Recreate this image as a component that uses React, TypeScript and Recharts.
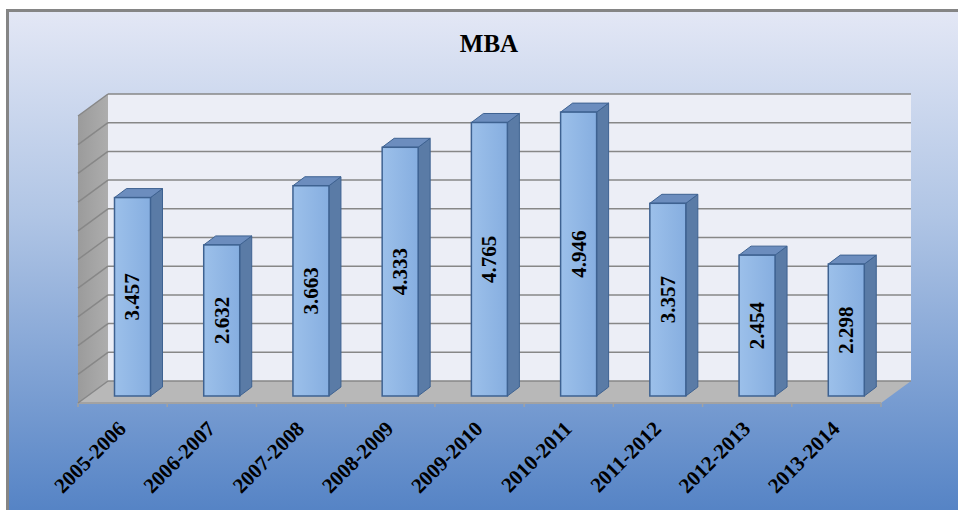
import { BarChart, Bar, XAxis, YAxis, CartesianGrid, LabelList } from 'recharts';

const years = [
  '2005-2006', '2006-2007', '2007-2008', '2008-2009', '2009-2010',
  '2010-2011', '2011-2012', '2012-2013', '2013-2014',
];
const mbaValues = [3.457, 2.632, 3.663, 4.333, 4.765, 4.946, 3.357, 2.454, 2.298];
const yTicks = [0, 0.5, 1, 1.5, 2, 2.5, 3, 3.5, 4, 4.5, 5];

const data = years.map((year, i) => ({ year, value: mbaValues[i] }));

// oblique projection offsets relative to the plane the bars stand in
const FRONT = { dx: -9.5, dy: 7 };
const BACK = { dx: 20.5, dy: -15 };
const BAR_DEPTH = { dx: 12, dy: -9 };

const serif = "'Liberation Serif', 'Times New Roman', serif";
const gridColor = '#878787';

function Walls({ x, y, width, height }: any) {
  const bottom = y + height;
  const fl = x + FRONT.dx;
  const bl = x + BACK.dx;
  const pts = (arr: number[][]) => arr.map((p) => p.join(',')).join(' ');
  const ticks = years.map((_, i) => i).concat(years.length);
  return (
    <g>
      <rect x={bl} y={y + BACK.dy} width={width} height={height} fill="#eceef6" />
      <polygon
        points={pts([[fl, bottom + FRONT.dy], [fl, y + FRONT.dy], [bl, y + BACK.dy], [bl, bottom + BACK.dy]])}
        fill="url(#leftWall)"
      />
      <polygon
        points={pts([
          [fl, bottom + FRONT.dy],
          [bl, bottom + BACK.dy],
          [x + width + BACK.dx, bottom + BACK.dy],
          [x + width + FRONT.dx, bottom + FRONT.dy],
        ])}
        fill="#b8b8b8"
      />
      <line x1={fl} y1={bottom + FRONT.dy} x2={x + width + FRONT.dx} y2={bottom + FRONT.dy} stroke="#a2a2a2" strokeWidth={2} />
      {ticks.map((i) => {
        const tx = fl + (i * width) / years.length;
        return <line key={i} x1={tx} y1={bottom + FRONT.dy} x2={tx} y2={bottom + FRONT.dy + 4} stroke="#a2a2a2" strokeWidth={1.5} />;
      })}
    </g>
  );
}

function WallGridLine(props: any) {
  const { x, y, width, height, y1, index } = props;
  return (
    <g key={`wall-line-${index}`}>
      {index === 0 && <Walls x={x} y={y} width={width} height={height} />}
      <line x1={x + FRONT.dx} y1={y1 + FRONT.dy} x2={x + BACK.dx} y2={y1 + BACK.dy} stroke={gridColor} strokeWidth={1.5} />
      <line x1={x + BACK.dx} y1={y1 + BACK.dy} x2={x + width + BACK.dx} y2={y1 + BACK.dy} stroke={gridColor} strokeWidth={1.5} />
    </g>
  );
}

function NoTick() {
  return <g />;
}

function Bar3D(props: any) {
  const { x, y, width, height } = props;
  const { dx, dy } = BAR_DEPTH;
  const edge = '#3e6291';
  return (
    <g>
      <polygon
        points={`${x + width},${y} ${x + width + dx},${y + dy} ${x + width + dx},${y + height + dy} ${x + width},${y + height}`}
        fill="#5a7ba6"
        stroke={edge}
        strokeWidth={1}
      />
      <polygon
        points={`${x},${y} ${x + dx},${y + dy} ${x + width + dx},${y + dy} ${x + width},${y}`}
        fill="#6c8dbe"
        stroke={edge}
        strokeWidth={1}
      />
      <rect x={x} y={y} width={width} height={height} fill="url(#barFront)" stroke={edge} strokeWidth={1.5} />
    </g>
  );
}

function BarValueLabel(props: any) {
  const { x, y, width, height, value } = props;
  const cx = x + width / 2;
  const cy = y + height / 2;
  return (
    <text
      x={cx}
      y={cy}
      transform={`rotate(-90 ${cx} ${cy})`}
      textAnchor="middle"
      dominantBaseline="central"
      fontFamily={serif}
      fontWeight="bold"
      fontSize={21}
      fill="#000"
    >
      {Number(value).toFixed(3)}
    </text>
  );
}

function YearTick(props: any) {
  const { x, y, payload } = props;
  const tx = x - 5;
  const ty = y + 34;
  return (
    <text
      x={tx}
      y={ty}
      transform={`rotate(-45 ${tx} ${ty})`}
      textAnchor="end"
      fontFamily={serif}
      fontWeight="bold"
      fontSize={21}
      fill="#000"
    >
      {payload.value}
    </text>
  );
}

export default function App() {
  return (
    <div style={{ position: 'absolute', left: 0, top: 0, width: 958, height: 510, overflow: 'hidden', background: '#fff' }}>
      <div
        style={{
          position: 'absolute',
          left: 6,
          top: 9,
          width: 960,
          height: 510,
          border: '3px solid #858585',
          background: 'linear-gradient(to bottom, #e3e7f5 0%, #b0c5e5 40%, #5281c4 100%)',
        }}
      />
      <div
        style={{
          position: 'absolute',
          left: 389,
          top: 31,
          width: 200,
          textAlign: 'center',
          fontFamily: serif,
          fontWeight: 'bold',
          fontSize: 25,
          lineHeight: '25px',
          color: '#000',
        }}
      >
        MBA
      </div>
      <div style={{ position: 'absolute', left: 0, top: 0 }}>
        <BarChart width={958} height={510} data={data} margin={{ top: 109, right: 67.5, bottom: 54, left: 87.5 }}>
          <defs>
            <linearGradient id="barFront" x1="0" y1="0" x2="1" y2="0">
              <stop offset="0%" stopColor="#9cc0ea" />
              <stop offset="100%" stopColor="#86aee0" />
            </linearGradient>
            <linearGradient id="leftWall" x1="0" y1="0" x2="1" y2="0">
              <stop offset="0%" stopColor="#9b9b9b" />
              <stop offset="100%" stopColor="#adadad" />
            </linearGradient>
          </defs>
          <CartesianGrid vertical={false} horizontal={WallGridLine} horizontalValues={yTicks} />
          <XAxis
            dataKey="year"
            height={60}
            axisLine={false}
            tickLine={false}
            tickSize={0}
            tickMargin={0}
            interval={0}
            tick={<YearTick />}
          />
          <YAxis
            width={0}
            domain={[0, 5]}
            ticks={yTicks}
            interval={0}
            tick={<NoTick />}
            axisLine={false}
            tickLine={false}
          />
          <Bar dataKey="value" barSize={36} shape={<Bar3D />} isAnimationActive={false}>
            <LabelList dataKey="value" content={<BarValueLabel />} />
          </Bar>
        </BarChart>
      </div>
    </div>
  );
}
